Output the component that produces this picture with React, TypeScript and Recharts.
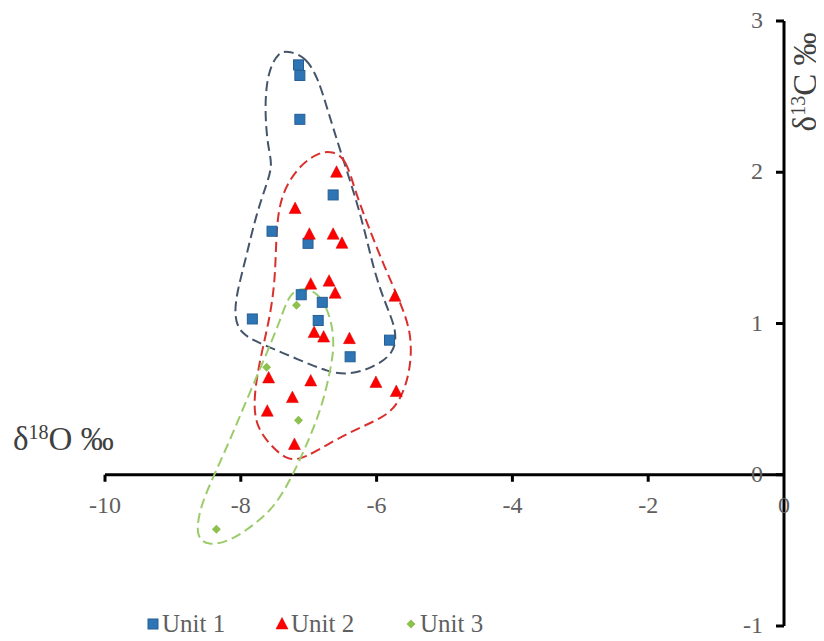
import {
  ComposedChart,
  Legend,
  Line,
  ReferenceDot,
  ReferenceLine,
  Scatter,
  XAxis,
  YAxis,
} from "recharts";

type Pt = { x: number; y: number };

// measured samples (δ18O, δ13C)
const unit1: Pt[] = [
  { x: -7.15, y: 2.71 }, { x: -7.13, y: 2.64 }, { x: -7.13, y: 2.35 },
  { x: -6.64, y: 1.85 }, { x: -7.54, y: 1.61 }, { x: -7.01, y: 1.53 },
  { x: -7.11, y: 1.19 }, { x: -6.80, y: 1.14 }, { x: -7.83, y: 1.03 },
  { x: -6.86, y: 1.02 }, { x: -5.81, y: 0.89 }, { x: -6.39, y: 0.78 },
];

const unit2: Pt[] = [
  { x: -6.59, y: 2.0 }, { x: -7.20, y: 1.76 }, { x: -6.99, y: 1.59 },
  { x: -6.64, y: 1.59 }, { x: -6.51, y: 1.53 }, { x: -6.97, y: 1.26 },
  { x: -6.70, y: 1.28 }, { x: -6.61, y: 1.2 }, { x: -5.73, y: 1.18 },
  { x: -6.92, y: 0.94 }, { x: -6.78, y: 0.91 }, { x: -6.40, y: 0.9 },
  { x: -7.59, y: 0.64 }, { x: -6.97, y: 0.62 }, { x: -6.01, y: 0.61 },
  { x: -5.71, y: 0.55 }, { x: -7.24, y: 0.51 }, { x: -7.61, y: 0.42 },
  { x: -7.21, y: 0.2 },
];

const unit3: Pt[] = [
  { x: -7.18, y: 1.12 }, { x: -7.62, y: 0.71 }, { x: -7.15, y: 0.36 },
  { x: -8.36, y: -0.36 },
];

// hand-drawn outlines around each unit
const hull1: Pt[] = [
  { x: -7.28, y: 2.8 }, { x: -7.04, y: 2.76 }, { x: -6.86, y: 2.62 },
  { x: -6.72, y: 2.41 }, { x: -6.54, y: 2.15 }, { x: -6.3, y: 1.82 },
  { x: -6.14, y: 1.55 }, { x: -6.02, y: 1.32 }, { x: -5.86, y: 1.12 },
  { x: -5.7, y: 0.95 }, { x: -5.74, y: 0.8 }, { x: -6.05, y: 0.71 },
  { x: -6.4, y: 0.66 }, { x: -6.72, y: 0.68 }, { x: -7.14, y: 0.76 },
  { x: -7.62, y: 0.85 }, { x: -8.02, y: 0.93 }, { x: -8.1, y: 1.06 },
  { x: -8.05, y: 1.22 }, { x: -7.92, y: 1.44 }, { x: -7.78, y: 1.71 },
  { x: -7.62, y: 1.92 }, { x: -7.53, y: 2.05 }, { x: -7.6, y: 2.16 },
  { x: -7.65, y: 2.41 }, { x: -7.61, y: 2.66 }, { x: -7.44, y: 2.8 },
];

const hull2: Pt[] = [
  { x: -6.65, y: 2.14 }, { x: -6.45, y: 2.09 }, { x: -6.32, y: 1.88 },
  { x: -6.13, y: 1.65 }, { x: -5.88, y: 1.37 }, { x: -5.65, y: 1.14 },
  { x: -5.48, y: 0.93 }, { x: -5.5, y: 0.69 }, { x: -5.64, y: 0.5 },
  { x: -5.84, y: 0.39 }, { x: -6.26, y: 0.31 }, { x: -6.65, y: 0.22 },
  { x: -7.06, y: 0.11 }, { x: -7.3, y: 0.09 }, { x: -7.56, y: 0.19 },
  { x: -7.79, y: 0.33 }, { x: -7.81, y: 0.52 }, { x: -7.71, y: 0.78 },
  { x: -7.58, y: 1.02 }, { x: -7.49, y: 1.29 }, { x: -7.48, y: 1.62 },
  { x: -7.41, y: 1.85 }, { x: -7.17, y: 2.03 }, { x: -6.87, y: 2.13 },
];

const hull3: Pt[] = [
  { x: -7.14, y: 1.24 }, { x: -6.85, y: 1.21 }, { x: -6.67, y: 1.04 },
  { x: -6.62, y: 0.86 }, { x: -6.68, y: 0.69 }, { x: -6.8, y: 0.46 },
  { x: -6.98, y: 0.25 }, { x: -7.13, y: 0.1 }, { x: -7.28, y: -0.04 },
  { x: -7.5, y: -0.21 }, { x: -7.8, y: -0.33 }, { x: -8.16, y: -0.44 },
  { x: -8.48, y: -0.47 }, { x: -8.67, y: -0.41 }, { x: -8.6, y: -0.21 },
  { x: -8.38, y: 0.01 }, { x: -8.14, y: 0.25 }, { x: -7.89, y: 0.52 },
  { x: -7.64, y: 0.78 }, { x: -7.42, y: 1.02 }, { x: -7.3, y: 1.18 },
];

const xTicks = [-10, -8, -6, -4, -2, 0];
const yTicks = [-1, 0, 1, 2, 3];

const W = 808;
const H = 630;
const tickColor = "#5f5f5f";
const font = '"Liberation Serif", "Times New Roman", serif';

const BLUE = "#2E75B6";
const RED = "#FF0000";
const GREEN = "#8DC04F";

function SquareMark({ cx, cy }: any) {
  return <rect x={cx - 5} y={cy - 5} width={10} height={10} fill={BLUE} stroke="#245E93" strokeWidth={1} />;
}

function TriangleMark({ cx, cy }: any) {
  return <polygon points={`${cx},${cy - 6.5} ${cx + 6},${cy + 5} ${cx - 6},${cy + 5}`} fill={RED} stroke="#D00000" strokeWidth={0.5} />;
}

function DiamondMark({ cx, cy }: any) {
  return <polygon points={`${cx},${cy - 4.5} ${cx + 4.5},${cy} ${cx},${cy + 4.5} ${cx - 4.5},${cy}`} fill={GREEN} />;
}

const legendIcons: Record<string, (cx: number, cy: number) => any> = {
  "Unit 1": (cx, cy) => <SquareMark cx={cx} cy={cy} />,
  "Unit 2": (cx, cy) => <TriangleMark cx={cx} cy={cy} />,
  "Unit 3": (cx, cy) => <DiamondMark cx={cx} cy={cy} />,
};

function LegendContent({ payload }: any) {
  const items = (payload || []).filter((p: any) => legendIcons[p.value]);
  return (
    <div style={{ display: "flex", fontFamily: font, fontSize: 25, color: tickColor }}>
      {items.map((p: any) => (
        <div key={p.value} style={{ width: 129, display: "flex", alignItems: "center" }}>
          <svg width={14} height={14} style={{ marginRight: 2 }}>
            {legendIcons[p.value](7, 7)}
          </svg>
          <span>{p.value}</span>
        </div>
      ))}
    </div>
  );
}

export default function App() {
  return (
    <div style={{ position: "relative", width: W, height: H, fontFamily: font }}>
      <ComposedChart width={W} height={H} margin={{ top: 13, right: 32, bottom: 12, left: 97 }}>
        <XAxis type="number" dataKey="x" domain={[-10, 0]} hide allowDataOverflow />
        <YAxis type="number" dataKey="y" domain={[-1, 3]} hide allowDataOverflow />

        <ReferenceLine y={0} stroke="#000" strokeWidth={3} />
        <ReferenceLine x={0} stroke="#000" strokeWidth={3} />

        {xTicks.map((t) => (
          <ReferenceDot
            key={"x" + t}
            x={t}
            y={0}
            r={0}
            shape={(p: any) => (
              <g>
                {t !== 0 && <line x1={p.cx} y1={p.cy} x2={p.cx} y2={p.cy + 7} stroke="#000" strokeWidth={3} />}
                <text x={p.cx} y={p.cy + 38} textAnchor="middle" fontSize={24} fill={tickColor} fontFamily={font}>
                  {t}
                </text>
              </g>
            )}
          />
        ))}
        {yTicks.map((t) => (
          <ReferenceDot
            key={"y" + t}
            x={0}
            y={t}
            r={0}
            shape={(p: any) => (
              <g>
                <line x1={p.cx - 8} y1={p.cy} x2={p.cx} y2={p.cy} stroke="#000" strokeWidth={3} />
                <text x={p.cx - 21} y={p.cy + 7} textAnchor="end" fontSize={24} fill={tickColor} fontFamily={font}>
                  {t}
                </text>
              </g>
            )}
          />
        ))}

        <Line data={hull1} dataKey="y" type="basisClosed" stroke="#44546A" strokeWidth={2} strokeDasharray="10 5" dot={false} activeDot={false} legendType="none" isAnimationActive={false} />
        <Line data={hull2} dataKey="y" type="basisClosed" stroke="#D9302E" strokeWidth={2} strokeDasharray="10 5" dot={false} activeDot={false} legendType="none" isAnimationActive={false} />
        <Line data={hull3} dataKey="y" type="basisClosed" stroke="#9CCB6B" strokeWidth={2} strokeDasharray="10 5" dot={false} activeDot={false} legendType="none" isAnimationActive={false} />

        <Scatter name="Unit 1" data={unit1} shape={SquareMark} isAnimationActive={false} />
        <Scatter name="Unit 2" data={unit2} shape={TriangleMark} isAnimationActive={false} />
        <Scatter name="Unit 3" data={unit3} shape={DiamondMark} isAnimationActive={false} />

        <Legend
          layout="horizontal"
          verticalAlign="middle"
          align="center"
          content={<LegendContent />}
          wrapperStyle={{ left: 138, top: 602, width: 420 }}
        />
      </ComposedChart>

      <div style={{ position: "absolute", left: 5, top: 415, fontSize: 33, color: "#404040", whiteSpace: "nowrap", lineHeight: 1 }}>
        δ<span style={{ fontSize: 20, verticalAlign: "top", position: "relative", top: -1 }}>18</span>O ‰
      </div>
      <div
        style={{
          position: "absolute",
          left: 797,
          top: 74,
          transform: "translate(-50%, -50%) rotate(-90deg)",
          fontSize: 33,
          color: "#404040",
          whiteSpace: "nowrap",
          lineHeight: 1,
        }}
      >
        δ<span style={{ fontSize: 20, verticalAlign: "top", position: "relative", top: -1 }}>13</span>C ‰
      </div>
    </div>
  );
}
